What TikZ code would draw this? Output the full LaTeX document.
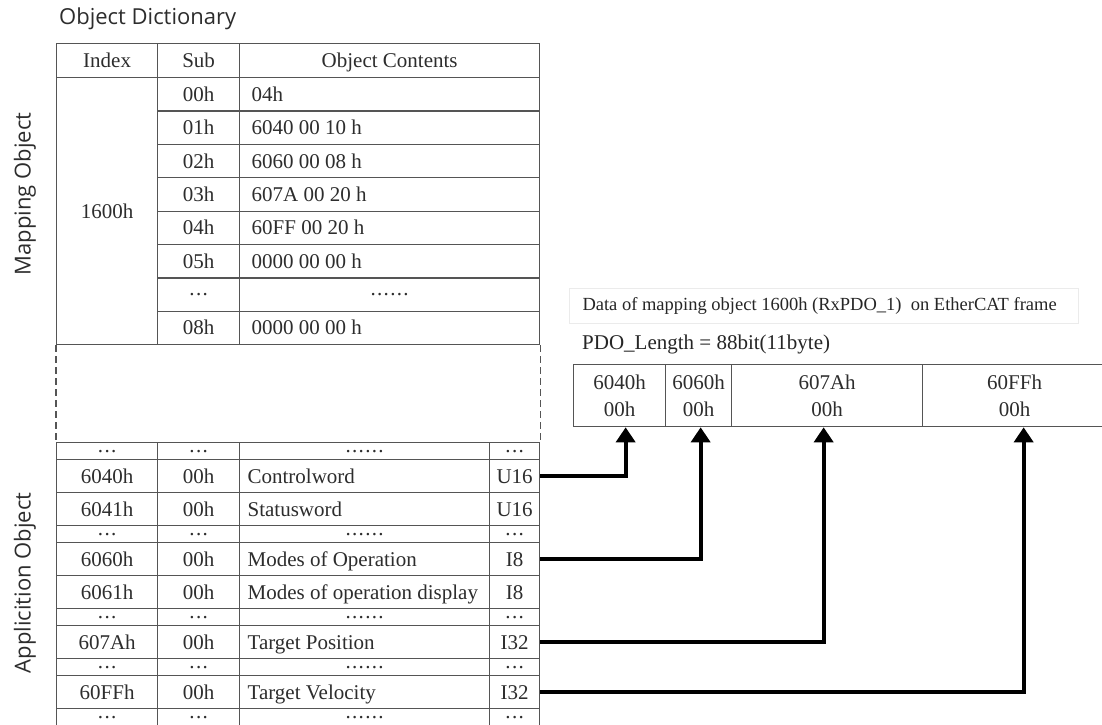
\documentclass[tikz,border=0pt]{standalone}
\usepackage{fontspec}
\setmainfont{Liberation Serif}
\newfontfamily\labelfont{Open Sans}
\usetikzlibrary{arrows.meta}
\definecolor{lc}{RGB}{85,85,85}
\definecolor{tc}{RGB}{45,45,45}
\newcommand\tabfont{\fontsize{21}{27}\selectfont}
\newcommand\lblfont{\labelfont\fontsize{22}{26}\selectfont}
\newcommand\dthree{.\kern1.3pt.\kern1.3pt.}
\newcommand\dsix{.\kern1.3pt.\kern1.3pt.\kern1.3pt.\kern1.3pt.\kern1.3pt.}
\newcommand\approw[7]{%
  \node[tcell,minimum width=101pt,minimum height=#3pt] (#1i) at (56,#2) {#4};
  \node[tcell,minimum width=82pt,minimum height=#3pt] (#1s) at (157,#2) {#5};
  \node[tcell,minimum width=250pt,minimum height=#3pt] (#1c) at (239,#2) {\makebox[234pt][l]{#6}};
  \node[tcell,minimum width=50pt,minimum height=#3pt] (#1t) at (489,#2) {#7};}
\newcommand\dotrow[2]{%
  \node[dcell,minimum width=101pt,minimum height=17pt] (#1i) at (56,#2) {\dthree};
  \node[dcell,minimum width=82pt,minimum height=17pt] (#1s) at (157,#2) {\dthree};
  \node[dcell,minimum width=250pt,minimum height=17pt] (#1c) at (239,#2) {\dsix};
  \node[dcell,minimum width=50pt,minimum height=17pt] (#1t) at (489,#2) {\dthree};}
\begin{document}
\begin{tikzpicture}[x=1pt,y=-1pt,
  cellbase/.style={draw=lc,line width=1.3pt,inner sep=0pt,anchor=north west,font=\tabfont,text=tc},
  tcell/.style={cellbase,text height=16pt,text depth=2pt},
  dcell/.style={cellbase},
  mcon/.style={tcell,minimum width=300pt,minimum height=33.375pt},
  msub/.style={tcell,minimum width=82pt,minimum height=33.375pt},
  fcell/.style={draw=lc,line width=1.3pt,inner sep=0pt,anchor=north west,font=\tabfont,text=tc,align=center,minimum height=62pt},
  conn/.style={line width=4pt,-{Triangle[width=19pt,length=15pt]}},
  vlabel/.style={font=\lblfont,text=tc,rotate=90}]
\fill[white] (0,0) rectangle (1102,724);
\useasboundingbox (0,0) rectangle (1102,724);

% title and side labels
\node[anchor=west,font=\lblfont,text=tc,inner sep=0pt] (title) at (59,19) {Object Dictionary};
\node[vlabel] (maplab) at (25,194) {Mapping Object};
\node[vlabel] (applab) at (25,583) {Applicition Object};

% mapping table
\node[tcell,minimum width=101pt,minimum height=34pt] (hidx) at (56,43) {Index};
\node[tcell,minimum width=82pt,minimum height=34pt] (hsub) at (157,43) {Sub};
\node[tcell,minimum width=300pt,minimum height=34pt] (hcon) at (239,43) {Object Contents};
\node[tcell,minimum width=101pt,minimum height=267pt] (i1600) at (56,77) {1600h};
\node[msub] (m0s) at (157,77) {00h};
\node[mcon] (m0c) at (239,77) {\makebox[276pt][l]{04h}};
\node[msub] (m1s) at (157,110.375) {01h};
\node[mcon] (m1c) at (239,110.375) {\makebox[276pt][l]{6040 00 10 h}};
\node[msub] (m2s) at (157,143.75) {02h};
\node[mcon] (m2c) at (239,143.75) {\makebox[276pt][l]{6060 00 08 h}};
\node[msub] (m3s) at (157,177.125) {03h};
\node[mcon] (m3c) at (239,177.125) {\makebox[276pt][l]{607A 00 20 h}};
\node[msub] (m4s) at (157,210.5) {04h};
\node[mcon] (m4c) at (239,210.5) {\makebox[276pt][l]{60FF 00 20 h}};
\node[msub] (m5s) at (157,243.875) {05h};
\node[mcon] (m5c) at (239,243.875) {\makebox[276pt][l]{0000 00 00 h}};
\node[dcell,minimum width=82pt,minimum height=33.375pt] (m6s) at (157,277.25) {\dthree};
\node[dcell,minimum width=300pt,minimum height=33.375pt] (m6c) at (239,277.25) {\dsix};
\node[msub] (m7s) at (157,310.625) {08h};
\node[mcon] (m7c) at (239,310.625) {\makebox[276pt][l]{0000 00 00 h}};

% application table
\dotrow{d0}{442}
\approw{r6040}{459}{33}{6040h}{00h}{Controlword}{U16}
\approw{r6041}{492}{33}{6041h}{00h}{Statusword}{U16}
\dotrow{d1}{525}
\approw{r6060}{542}{33}{6060h}{00h}{Modes of Operation}{I8}
\approw{r6061}{575}{33}{6061h}{00h}{Modes of operation display}{I8}
\dotrow{d2}{608}
\approw{r607A}{625}{33}{607Ah}{00h}{Target Position}{I32}
\dotrow{d3}{658}
\approw{r60FF}{675}{33}{60FFh}{00h}{Target Velocity}{I32}
\dotrow{d4}{708}

% dashed gap
\draw[lc,line width=1.3pt,dash pattern=on 7pt off 4pt] (i1600.south west) -- (d0i.north west);
\draw[lc,line width=1.3pt,dash pattern=on 7pt off 4pt] (m7c.south east) -- (d0t.north east);

% frame
\node[anchor=north west,draw=black!8,line width=1pt,minimum width=509pt,minimum height=35pt,inner xsep=13pt,inner ysep=0pt,font=\fontsize{18.5}{22}\selectfont,text=black!85] (data) at (569,288) {\makebox[483pt][l]{Data of mapping object 1600h (RxPDO\_1)\ \ on EtherCAT frame}};
\node[anchor=west,inner sep=0pt,font=\tabfont,text=black!85] (pdolen) at (582,344) {PDO\_Length = 88bit(11byte)};

\node[fcell,minimum width=92pt] (f6040) at (573,364) {6040h\\00h};
\node[fcell,minimum width=66pt] (f6060) at (665,364) {6060h\\00h};
\node[fcell,minimum width=191pt] (f607A) at (731,364) {607Ah\\00h};
\node[fcell,minimum width=184pt] (f60FF) at (922,364) {60FFh\\00h};

% connectors
\draw[conn] (r6040t.east) -| ([xshift=6pt]f6040.south);
\draw[conn] (r6060t.east) -| ([xshift=2pt]f6060.south);
\draw[conn] (r607At.east) -| ([xshift=-3.5pt]f607A.south);
\draw[conn] (r60FFt.east) -| ([xshift=9pt]f60FF.south);
\end{tikzpicture}
\end{document}
